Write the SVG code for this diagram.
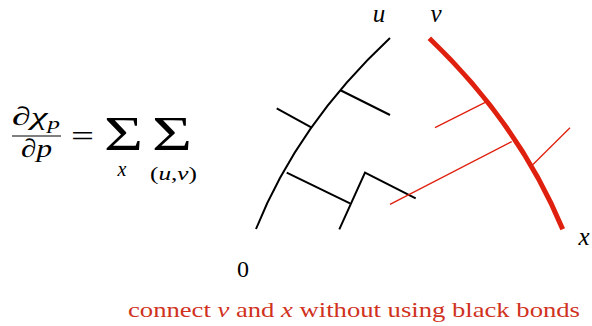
<svg xmlns="http://www.w3.org/2000/svg" width="592" height="326" viewBox="0 0 592 326">
<style>
text{font-family:'Liberation Serif','DejaVu Serif',serif}
.i{font-style:italic}
.blk{fill:none;stroke:#000;stroke-width:2}
.red{fill:none;stroke:#e0200e;stroke-width:1.3}
.redt{fill:none;stroke:#e0200e;stroke-width:5}
.cap{fill:#d0321e;font-size:22px}
</style>
<rect width="592" height="326" fill="#fff"/>
<g id="formula">
<text class="i" x="12" y="125" font-size="26" textLength="48" lengthAdjust="spacingAndGlyphs">∂χ<tspan font-size="17" dy="4">p</tspan></text>
<line x1="12" y1="136" x2="61" y2="136" stroke="#000" stroke-width="1.2"/>
<text class="i" x="21" y="157" font-size="26" textLength="31" lengthAdjust="spacingAndGlyphs">∂p</text>
<text x="71" y="146" font-size="30" textLength="23" lengthAdjust="spacingAndGlyphs">=</text>
<text x="104" y="150" font-size="48" textLength="39" lengthAdjust="spacingAndGlyphs">Σ</text>
<text x="152" y="150" font-size="48" textLength="40" lengthAdjust="spacingAndGlyphs">Σ</text>
<text class="i" x="122" y="176" font-size="20" text-anchor="middle">x</text>
<text x="150" y="180" font-size="18" textLength="47" lengthAdjust="spacingAndGlyphs">(<tspan class="i">u</tspan>,<tspan class="i">v</tspan>)</text>
</g>
<g id="labels">
<text class="i" x="379" y="22" font-size="25" text-anchor="middle">u</text>
<text class="i" x="436" y="22" font-size="25" text-anchor="middle">v</text>
<text class="i" x="584" y="245" font-size="25" text-anchor="middle">x</text>
<text x="243" y="277" font-size="24" text-anchor="middle">0</text>
</g>
<g id="black-path">
<path class="blk" d="M256,229 Q298,124 390,38"/>
<path class="blk" d="M340,90 L390,115"/>
<path class="blk" d="M276.7,108.3 L311.7,127.7"/>
<path class="blk" d="M286.7,172.7 L350,203.3"/>
<path class="blk" d="M339.3,229.3 L365,172.7 L415.7,198.3"/>
</g>
<g id="red-path">
<path class="redt" d="M429.3,38.3 Q519,124 562.7,229.3"/>
<path class="red" d="M486.7,101.7 L435,127.7"/>
<path class="red" d="M511.7,141.7 L390,204.3"/>
<path class="red" d="M531.7,165.7 L570,127.7"/>
</g>
<g id="caption">
<text class="cap" x="128" y="317" textLength="452" lengthAdjust="spacingAndGlyphs">connect <tspan class="i">v</tspan> and <tspan class="i">x</tspan> without using black bonds</text>
</g>
</svg>
